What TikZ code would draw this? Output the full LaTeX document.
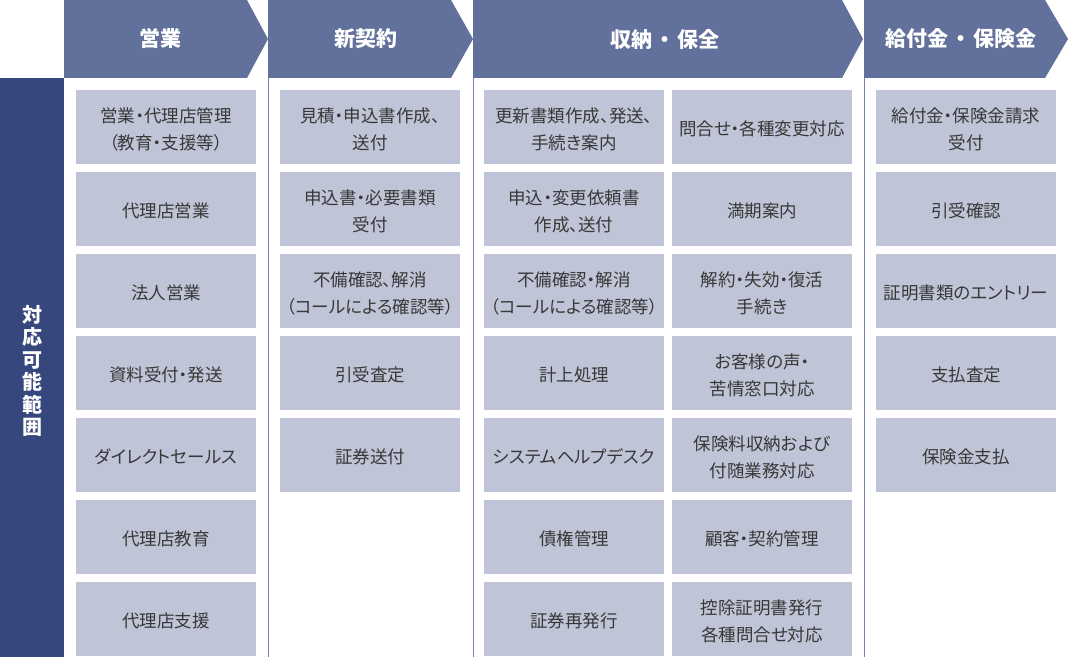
\documentclass[tikz,border=0pt]{standalone}
\usepackage{fontspec}
\setmainfont{Noto Sans CJK JP}[RawFeature=+palt]
\newfontfamily\hdfont{Noto Sans CJK JP}
\definecolor{hdblue}{HTML}{62719B}
\definecolor{barblue}{HTML}{35477D}
\definecolor{boxfill}{HTML}{BFC4D6}
\definecolor{sepline}{HTML}{7482AD}
\definecolor{txt}{HTML}{383838}
\tikzset{
  hdshape/.style={fill=hdblue, draw=none},
  hdtext/.style={text=white, font={\hdfont\bfseries\fontsize{21}{25}\selectfont}, inner sep=0pt},
  celltext/.style={align=center, text=txt, font={\fontsize{17.5}{27}\selectfont}, inner sep=0pt, yshift=-2pt},
  cell/.style={fill=boxfill, draw=none, minimum width=180pt, minimum height=74pt, inner sep=0pt,
    label={[celltext]center:{#1}}},
  sep/.style={draw=sepline, line width=1pt},
}
\begin{document}
\begin{tikzpicture}[x=1pt,y=-1pt]
\useasboundingbox (0,0) rectangle (1068,658);
% headers
\fill[hdshape] (64,0) -- (247,0) -- (268,39) -- (247,78) -- (64,78) -- cycle;
\fill[hdshape] (268,0) -- (451,0) -- (473,39) -- (451,78) -- (268,78) -- cycle;
\fill[hdshape] (473,0) -- (842,0) -- (863,39) -- (842,78) -- (473,78) -- cycle;
\fill[hdshape] (864,0) -- (1045,0) -- (1068,39) -- (1045,78) -- (864,78) -- cycle;
\node[hdtext] (h1) at (160,39) {営業};
\node[hdtext] (h2) at (366,39) {新契約};
\node[hdtext] (h3) at (665,39) {収納\hspace{2pt}・\hspace{2pt}保全};
\node[hdtext] (h4) at (961,39) {給付金\hspace{2pt}・\hspace{2pt}保険金};
% left bar
\fill[barblue] (0,78) rectangle (64,657);
\node[text=white, align=center, inner sep=0pt,
  font={\hdfont\bfseries\fontsize{20}{22.5}\selectfont}] (lab) at (32,371) {対\\応\\可\\能\\範\\囲};
% separators
\draw[sep] (268.5,78) -- (268.5,657);
\draw[sep] (473.5,78) -- (473.5,657);
\draw[sep] (864.5,78) -- (864.5,657);
% column 1
\node[cell={営業・代理店管理\\（教育・支援等）}] (a1) at (166,127) {};
\node[cell={代理店営業}] (a2) at (166,209) {};
\node[cell={法人営業}] (a3) at (166,291) {};
\node[cell={資料受付・発送}] (a4) at (166,373) {};
\node[cell={ダイレクトセールス}] (a5) at (166,455) {};
\node[cell={代理店教育}] (a6) at (166,537) {};
\node[cell={代理店支援}] (a7) at (166,619) {};
% column 2
\node[cell={見積・申込書作成、\\送付}] (b1) at (370,127) {};
\node[cell={申込書・必要書類\\受付}] (b2) at (370,209) {};
\node[cell={不備確認、解消\\（コールによる確認等）}] (b3) at (370,291) {};
\node[cell={引受査定}] (b4) at (370,373) {};
\node[cell={証券送付}] (b5) at (370,455) {};
% column 3a
\node[cell={更新書類作成、発送、\\手続き案内}] (c1) at (574,127) {};
\node[cell={申込・変更依頼書\\作成、送付}] (c2) at (574,209) {};
\node[cell={不備確認・解消\\（コールによる確認等）}] (c3) at (574,291) {};
\node[cell={計上処理}] (c4) at (574,373) {};
\node[cell={システムヘルプデスク}] (c5) at (574,455) {};
\node[cell={債権管理}] (c6) at (574,537) {};
\node[cell={証券再発行}] (c7) at (574,619) {};
% column 3b
\node[cell={問合せ・各種変更対応}] (d1) at (762,127) {};
\node[cell={満期案内}] (d2) at (762,209) {};
\node[cell={解約・失効・復活\\手続き}] (d3) at (762,291) {};
\node[cell={お客様の声・\\苦情窓口対応}] (d4) at (762,373) {};
\node[cell={保険料収納および\\付随業務対応}] (d5) at (762,455) {};
\node[cell={顧客・契約管理}] (d6) at (762,537) {};
\node[cell={控除証明書発行\\各種問合せ対応}] (d7) at (762,619) {};
% column 4
\node[cell={給付金・保険金請求\\受付}] (e1) at (966,127) {};
\node[cell={引受確認}] (e2) at (966,209) {};
\node[cell={証明書類のエントリー}] (e3) at (966,291) {};
\node[cell={支払査定}] (e4) at (966,373) {};
\node[cell={保険金支払}] (e5) at (966,455) {};
\end{tikzpicture}
\end{document}
